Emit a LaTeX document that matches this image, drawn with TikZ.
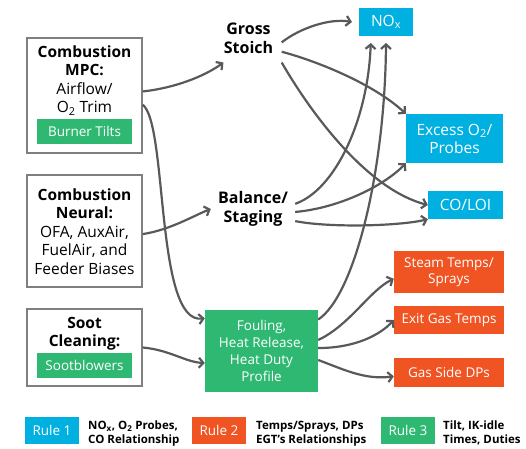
\documentclass[tikz,border=0pt]{standalone}
\usepackage{fontspec}
\setmainfont{Open Sans}
\usetikzlibrary{arrows.meta}
\definecolor{ruleblue}{HTML}{00B0E0}
\definecolor{ruleorange}{HTML}{F05423}
\definecolor{rulegreen}{HTML}{2EB872}
\definecolor{linkgray}{HTML}{58595B}
\definecolor{edgegray}{HTML}{7F7F7F}

\tikzset{
  ctrlbox/.style={draw=edgegray, line width=1.6pt, minimum width=115pt, inner sep=0pt},
  ctrltext/.style={align=center, inner sep=0pt, font=\fontsize{15.5}{18.5}\selectfont},
  tagbox/.style={fill=rulegreen, text=white, minimum width=95pt, minimum height=25pt, inner sep=0pt, font=\fontsize{13.5}{16}\selectfont},
  stagetext/.style={align=center, inner sep=0pt, font=\fontsize{16}{18.5}\selectfont\bfseries},
  bluebox/.style={fill=ruleblue, text=white, align=center, inner sep=0pt, font=\fontsize{15.5}{18}\selectfont},
  orangebox/.style={fill=ruleorange, text=white, align=center, inner sep=0pt, minimum width=110pt, font=\fontsize{13.5}{16.5}\selectfont},
  arrowline/.style={draw=linkgray, line width=2.2pt, -{Straight Barb[length=4.5pt,width=10pt]}},
  legendtag/.style={minimum width=54pt, minimum height=27pt, inner sep=0pt, text=white, font=\fontsize{13.5}{16}\selectfont},
  legendtext/.style={anchor=north west, align=left, inner sep=0pt, font=\fontsize{11.5}{14.5}\selectfont\bfseries},
}

\begin{document}
\begin{tikzpicture}[x=1pt,y=1pt,yscale=-1]
\useasboundingbox (0,0) rectangle (526,448);
% Combustion MPC
\node[ctrlbox, minimum height=115pt] (mpc) at (84.5,95.5) {};
\node[ctrltext] (mpctxt) at (84.5,80.5) {\textbf{Combustion}\\\textbf{MPC:}\\Airflow/\\O\textsubscript{2} Trim};
\node[tagbox] (tilts) at (84.5,131) {Burner Tilts};
% Combustion Neural
\node[ctrlbox, minimum height=112pt] (neural) at (84.5,231) {};
\node[ctrltext] (neuraltxt) at (84.5,231.5) {\textbf{Combustion}\\\textbf{Neural:}\\OFA, AuxAir,\\FuelAir, and\\Feeder Biases};
% Soot Cleaning
\node[ctrlbox, minimum height=77pt] (soot) at (84.5,347.5) {};
\node[ctrltext] (soottxt) at (84.5,333.5) {\textbf{Soot}\\\textbf{Cleaning:}};
\node[tagbox] (blowers) at (84.5,365.5) {Sootblowers};
% Middle stages
\node[stagetext, minimum width=66pt, minimum height=48pt] (gs) at (248.5,38.3) {Gross\\Stoich};
\node[stagetext, minimum width=84pt, minimum height=40pt] (bal) at (253,209) {Balance/\\Staging};
\node[fill=rulegreen, text=white, align=center, inner sep=0pt, minimum width=113pt, minimum height=82pt, font=\fontsize{13.5}{17}\selectfont] (foul) at (261.5,351) {Fouling,\\Heat Release,\\Heat Duty\\Profile};
% Rule 1 outputs
\node[bluebox, minimum width=54pt, minimum height=28pt, outer sep=7pt] (nox) at (386,22) {NO\textsubscript{x}};
\node[bluebox, minimum width=97pt, minimum height=49pt] (excess) at (454.5,138.5) {Excess O\textsubscript{2}/\\Probes};
\node[bluebox, minimum width=75pt, minimum height=28pt] (co) at (465.5,205) {CO/LOI};
% Rule 2 outputs
\node[orangebox, minimum height=42pt] (steam) at (449,272) {Steam Temps/\\Sprays};
\node[orangebox, minimum height=28pt] (exit) at (449,320) {Exit Gas Temps};
\node[orangebox, minimum height=29pt] (gasdp) at (449,372.5) {Gas Side DPs};
% Connectors
\draw[arrowline] (mpc.4) .. controls (175,88) and (205,76) .. (gs.224);
\draw[arrowline] (mpc.-9) .. controls (168,125) and (155,325) .. (foul.150);
\draw[arrowline] (neural.-3) .. controls (170,230) and (195,215) .. (bal.west);
\draw[arrowline] (soot.east) .. controls (170,350) and (185,362) .. (foul.192);
\draw[arrowline] (gs.-7) .. controls (300,28) and (330,18) .. (nox.west);
\draw[arrowline] (gs.-22) .. controls (320,62) and (375,85) .. (excess.north west);
\draw[arrowline] (gs.south east) .. controls (315,120) and (370,190) .. (co.west);
\draw[arrowline] (bal.7) .. controls (335,190) and (368,120) .. (nox.234);
\draw[arrowline] (bal.-4) .. controls (340,208) and (385,185) .. (excess.south west);
\draw[arrowline] (bal.-16) .. controls (330,228) and (400,226) .. (co.south west);
\draw[arrowline] (foul.29) .. controls (355,295) and (385,170) .. (nox.south);
\draw[arrowline] (foul.11) .. controls (350,325) and (370,290) .. (steam.187);
\draw[arrowline] (foul.3) .. controls (355,348) and (380,335) .. (exit.west);
\draw[arrowline] (foul.-9) .. controls (345,370) and (365,380) .. (gasdp.184);
% Legend
\node[legendtag, fill=ruleblue] (r1) at (52,430.5) {Rule 1};
\node[legendtext] (r1txt) at (88,420.5) {NO\textsubscript{x}, O\textsubscript{2} Probes,\\CO Relationship};
\node[legendtag, fill=ruleorange] (r2) at (219,430.5) {Rule 2};
\node[legendtext] (r2txt) at (256,420.5) {Temps/Sprays, DPs\\EGT's Relationships};
\node[legendtag, fill=rulegreen] (r3) at (408,430.5) {Rule 3};
\node[legendtext] (r3txt) at (443,420.5) {Tilt, IK-idle\\Times, Duties};
\end{tikzpicture}
\end{document}
